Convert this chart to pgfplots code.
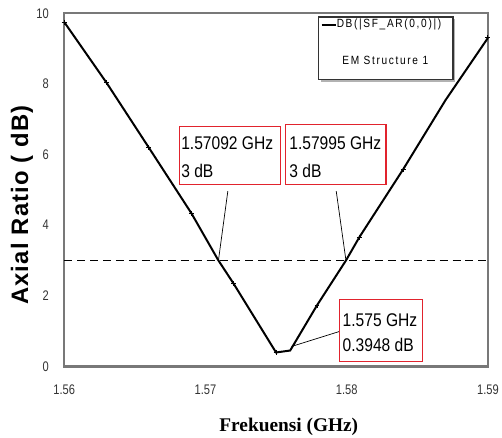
\documentclass[border=0pt]{standalone}
\usepackage{fontspec}
\setmainfont{Liberation Sans}
\newfontfamily\narrow[FakeStretch=0.8]{Liberation Sans}
\newfontfamily\annfont[FakeStretch=0.85]{Liberation Sans}
\newfontfamily\legfont[FakeStretch=0.85,LetterSpace=14]{Liberation Sans}
\newfontfamily\ylabfont[LetterSpace=5]{Liberation Sans}
\newfontfamily\serifb{Liberation Serif}
\usepackage{pgfplots}
\pgfplotsset{compat=1.18}
\definecolor{boxred}{RGB}{225,35,45}
\definecolor{framegray}{RGB}{120,120,120}
\begin{document}
\begin{tikzpicture}
\begin{axis}[
  scale only axis, width=425.5bp, height=354.7bp,
  xmin=1.56, xmax=1.59, ymin=0, ymax=10,
  xtick={1.56,1.57,1.58,1.59}, ytick={0,2,4,6,8,10},
  xticklabels={1.56,1.57,1.58,1.59},
  yticklabels={0,2,4,6,8,10},
  major tick length=0,
  axis line style={draw=framegray, line width=2.4bp},
  ticklabel style={font=\narrow\fontsize{14}{16}\selectfont, text=black!80},
  xticklabel style={yshift=-15bp},
  yticklabel style={xshift=-12bp},
  clip=false,
]
% bounding box
\path (axis description cs:-0.1516,-0.2002) rectangle (axis description cs:1.0282,1.0375);

% 3 dB reference line
\addplot[black, line width=1.4bp, dash pattern=on 8bp off 5bp] coordinates {(1.56,3) (1.59,3)};

% axial ratio curve
\addplot[black, line width=2bp, mark=+, mark size=2.5bp,
  mark indices={1,2,3,4,6,7,9,11,12,14,15}, mark options={line width=1bp, solid}]
coordinates {
(1.5600,9.75) (1.5630,8.03) (1.5660,6.19) (1.5690,4.34) (1.57092,3.00)
(1.5720,2.34) (1.5750,0.3948) (1.5760,0.45) (1.5779,1.73) (1.57995,3.00)
(1.5809,3.66) (1.5840,5.58) (1.5870,7.54) (1.5900,9.30)
};

% leader lines
\draw[black, line width=0.7bp] (axis cs:1.571585,4.962) -- (axis cs:1.57092,3.0);
\draw[black, line width=0.7bp] (axis cs:1.579261,4.962) -- (axis cs:1.57995,3.0);
\draw[black, line width=0.7bp] (axis cs:1.57947,0.987) -- (axis cs:1.576092,0.564);

% annotation boxes
\draw[boxred, line width=1.3bp, fill=white] (axis cs:1.56814,5.159) rectangle (axis cs:1.57532,6.794);
\draw[boxred, line width=1.3bp, fill=white] (axis cs:1.57567,5.159) rectangle (axis cs:1.58278,6.851);
\draw[boxred, line width=1.3bp, fill=white] (axis cs:1.57947,0.141) rectangle (axis cs:1.58539,1.889);
\node[anchor=north west, inner sep=0pt, align=left, font=\annfont\fontsize{18.5}{28}\selectfont]
  at (axis cs:1.568275,6.498) {1.57092 GHz\\3 dB};
\node[anchor=north west, inner sep=0pt, align=left, font=\annfont\fontsize{18.5}{28}\selectfont]
  at (axis cs:1.575930,6.498) {1.57995 GHz\\3 dB};
\node[anchor=north west, inner sep=0pt, align=left, font=\annfont\fontsize{18.5}{25}\selectfont]
  at (axis cs:1.579704,1.494) {1.575 GHz\\0.3948 dB};

% legend
\fill[gray!60] ([xshift=2bp,yshift=-2bp]axis description cs:0.6005,0.9896) rectangle ([xshift=2bp,yshift=-2bp]axis description cs:0.9177,0.8120);
\draw[black!80, line width=1.2bp, fill=white] (axis description cs:0.6005,0.9896) rectangle (axis description cs:0.9177,0.8120);
\draw[black, line width=2bp] (axis description cs:0.6075,0.967) -- (axis description cs:0.6404,0.967);
\node[anchor=west, inner sep=0pt, font=\legfont\fontsize{12}{14}\selectfont] at (axis description cs:0.6428,0.967) {DB(|SF\_AR(0,0)|)};
\node[anchor=center, inner sep=0pt, font=\legfont\fontsize{12}{14}\selectfont] at (axis description cs:0.7579,0.8655) {EM Structure 1};

% axis labels
\node[anchor=base, inner sep=0pt, font=\serifb\bfseries\fontsize{19.5}{22}\selectfont] at (axis description cs:0.53,-0.1833) {Frekuensi (GHz)};
\node[rotate=90, anchor=center, inner sep=0pt, font=\ylabfont\bfseries\fontsize{24}{26}\selectfont] at (axis description cs:-0.0999,0.4567) {Axial Ratio ( dB)};
\end{axis}
\end{tikzpicture}
\end{document}
